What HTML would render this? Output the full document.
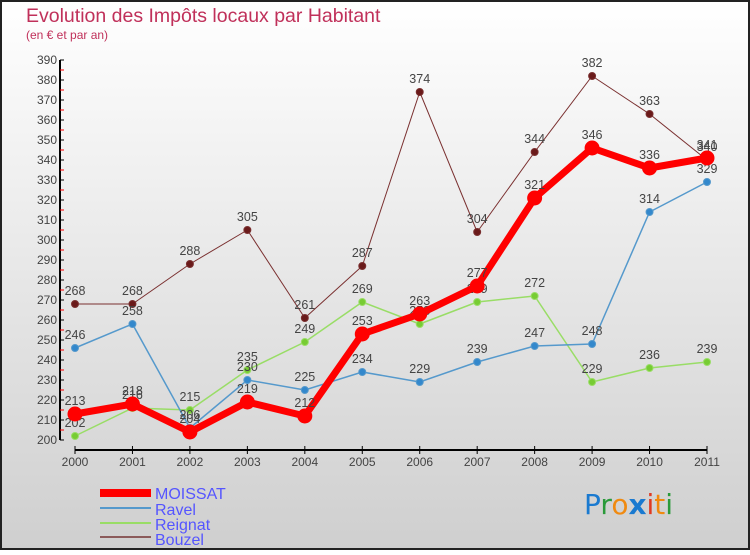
<!DOCTYPE html>
<html><head><meta charset="utf-8"><style>
html,body{margin:0;padding:0}
body{width:750px;height:550px;overflow:hidden;font-family:"Liberation Sans",sans-serif}
</style></head><body>
<svg id="c" width="750" height="550" xmlns="http://www.w3.org/2000/svg" font-family="Liberation Sans, sans-serif">
<defs><linearGradient id="bg" x1="0" y1="0" x2="0" y2="1"><stop offset="0" stop-color="#ffffff"/><stop offset="1" stop-color="#cfcfcf"/></linearGradient></defs>
<rect x="1" y="1" width="748" height="548" fill="url(#bg)" stroke="#222" stroke-width="2"/>
<text x="26" y="22" font-size="19.5" fill="#c0305a">Evolution des Impôts locaux par Habitant</text>
<text x="26" y="39" font-size="12" fill="#c0305a">(en € et par an)</text>
<g id="axes"></g><g id="series"></g>
<g font-size="16" fill="#5555ff">
<rect x="100" y="489" width="51" height="8" fill="#f00"/>
<text x="155" y="499">MOISSAT</text>
<line x1="100" y1="508" x2="151" y2="508" stroke="#5599cc" stroke-width="2"/>
<text x="155" y="515">Ravel</text>
<line x1="100" y1="523" x2="151" y2="523" stroke="#99dd66" stroke-width="2"/>
<text x="155" y="530">Reignat</text>
<line x1="100" y1="537" x2="151" y2="537" stroke="#8b5a5a" stroke-width="2"/>
<text x="155" y="545">Bouzel</text>
</g>
<text x="584" y="514" font-size="28" font-family="DejaVu Sans,sans-serif"><tspan fill="#1a7ad0">P</tspan><tspan fill="#2a9a3a">r</tspan><tspan fill="#f08a10">o</tspan><tspan fill="#1a7ad0" font-weight="bold">x</tspan><tspan fill="#e03a20">i</tspan><tspan fill="#f08a10">t</tspan><tspan fill="#2a9a3a">i</tspan></text>
</svg>
<script>
const years=["2000","2001","2002","2003","2004","2005","2006","2007","2008","2009","2010","2011"];
const moissat=[213,218,204,219,212,253,263,277,321,346,336,341];
const ravel=[246,258,206,230,225,234,229,239,247,248,314,329];
const reignat=[202,216,215,235,249,269,258,269,272,229,236,239];
const bouzel=[268,268,288,305,261,287,374,304,344,382,363,340];
const yTicks=[200,210,220,230,240,250,260,270,280,290,300,310,320,330,340,350,360,370,380,390];
const NS="http://www.w3.org/2000/svg";
const xS=i=>75+i*(707-75)/11;
const yS=v=>440-(v-200)*2;
function mk(t,a,p){const e=document.createElementNS(NS,t);for(const k in a)e.setAttribute(k,a[k]);p.appendChild(e);return e;}
const ax=document.getElementById('axes');
let yl=mk('line',{x1:60,y1:yS(390),x2:60,y2:yS(200),stroke:'#000','stroke-width':2},ax);


yTicks.forEach(v=>{
 mk('line',{x1:60,y1:yS(v),x2:64,y2:yS(v),stroke:'#000','stroke-width':1},ax);
 mk('line',{x1:60,y1:yS(v)+10,x2:64,y2:yS(v)+10,stroke:v>200?'#f00':'none','stroke-width':1},ax);
 const t=mk('text',{x:57,y:yS(v)+4,'text-anchor':'end','font-size':12,fill:'#444'},ax);t.textContent=v;
 
 
});
let xl=mk('line',{x1:xS(0),y1:450,x2:xS(11),y2:450,stroke:'#000','stroke-width':2},ax);


years.forEach((y,i)=>{
 mk('line',{x1:xS(i),y1:446,x2:xS(i),y2:454,stroke:'#000','stroke-width':1},ax);
 const t=mk('text',{x:xS(i),y:466,'text-anchor':'middle','font-size':12,fill:'#444'},ax);t.textContent=y;
 
 
});
const sg=document.getElementById('series');
function series(name,data,color,w,r,dot){
 const g=mk('g',{},sg);
 
 
 const pl=mk('polyline',{points:data.map((v,i)=>xS(i)+','+yS(v)).join(' '),fill:'none',stroke:color,'stroke-width':w,'stroke-linejoin':'round'},g);
 
 
 data.forEach((v,i)=>{
  const c=mk('circle',{cx:xS(i),cy:yS(v),r:r,fill:dot,stroke:color,'stroke-width':1},g);
  
  
  const t=mk('text',{x:xS(i),y:yS(v)-9,'text-anchor':'middle','font-size':12.5,fill:'#444'},g);t.textContent=v;
  
  
 });
}
series('bouzel',bouzel,'#7a3030',1,3.5,'#6a1a1a');
series('reignat',reignat,'#99dd66',1.5,3.5,'#77cc33');
series('ravel',ravel,'#5599cc',1.5,3.5,'#3388cc');
series('moissat',moissat,'#f00',7,7,'#f00');
</script>
</body></html>
